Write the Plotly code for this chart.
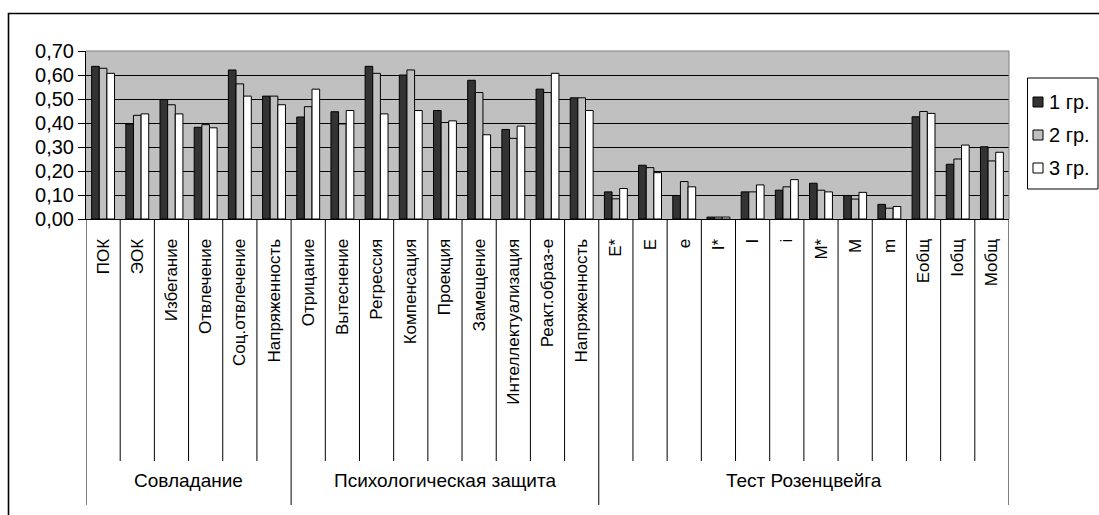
import plotly.graph_objects as go

groups = ["Совладание", "Психологическая защита", "Тест Розенцвейга"]
group_sizes = [6, 9, 12]
categories = ["ПОК", "ЭОК", "Избегание", "Отвлечение", "Соц.отвлечение", "Напряженность",
              "Отрицание", "Вытеснение", "Регрессия", "Компенсация", "Проекция", "Замещение",
              "Интеллектуализация", "Реакт.образ-е", "Напряженность",
              "E*", "E", "e", "I*", "I", "i", "M*", "M", "m", "Eобщ", "Iобщ", "Mобщ"]
series_names = ["1 гр.", "2 гр.", "3 гр."]
s1 = [0.636, 0.396, 0.498, 0.382, 0.621, 0.512, 0.425, 0.447, 0.636, 0.600, 0.452, 0.578,
      0.373, 0.541, 0.505, 0.113, 0.224, 0.098, 0.008, 0.113, 0.120, 0.149, 0.098, 0.061,
      0.426, 0.228, 0.301]
s2 = [0.628, 0.432, 0.476, 0.393, 0.563, 0.512, 0.468, 0.396, 0.607, 0.621, 0.402, 0.527,
      0.336, 0.527, 0.505, 0.084, 0.214, 0.156, 0.008, 0.113, 0.134, 0.120, 0.083, 0.045,
      0.448, 0.250, 0.242]
s3 = [0.607, 0.438, 0.438, 0.380, 0.512, 0.476, 0.541, 0.452, 0.438, 0.452, 0.409, 0.351,
      0.387, 0.607, 0.452, 0.127, 0.193, 0.134, 0.008, 0.142, 0.164, 0.113, 0.111, 0.052,
      0.440, 0.308, 0.278]
y_ticks = [0.0, 0.1, 0.2, 0.3, 0.4, 0.5, 0.6, 0.7]

colors = ["#333333", "#c0c0c0", "#ffffff"]
FONT = "Arial, Liberation Sans, sans-serif"

W, H = 1099, 515
ML, MR, MT, MB = 86, 90, 51, 296
PW, PH = W - ML - MR, H - MT - MB

def py(px):  # pixel y -> paper y
    return (H - MB - px) / PH

def pxx(px):  # pixel x -> paper x
    return (px - ML) / PW

xs = list(range(len(categories)))
fig = go.Figure()
for i, (name, vals) in enumerate(zip(series_names, [s1, s2, s3])):
    fig.add_trace(go.Bar(x=xs, y=vals, name=name, showlegend=False,
                         marker=dict(color=colors[i], line=dict(color="black", width=1))))

shapes = []
bounds = [0]
for g in group_sizes:
    bounds.append(bounds[-1] + g)
group_bounds = set(bounds)
for b in range(len(categories) + 1):
    yb = py(505) if b in group_bounds else py(461)
    shapes.append(dict(type="line", xref="x", yref="paper", x0=b - 0.5, x1=b - 0.5,
                       y0=0, y1=yb, line=dict(color="black", width=1)))
# plot area top/right border (gray)
shapes.append(dict(type="line", xref="paper", yref="paper", x0=0, x1=1, y0=1, y1=1,
                   line=dict(color="#808080", width=1), layer="above"))
shapes.append(dict(type="line", xref="paper", yref="paper", x0=1, x1=1, y0=0, y1=1,
                   line=dict(color="#808080", width=1), layer="above"))
# outer chart border
shapes.append(dict(type="rect", xref="paper", yref="paper", x0=pxx(8.5), x1=pxx(1110),
                   y0=py(530), y1=py(13.5), line=dict(color="black", width=1.6),
                   fillcolor="rgba(0,0,0,0)", layer="below"))
# legend box
shapes.append(dict(type="rect", xref="paper", yref="paper", x0=pxx(1027.5), x1=pxx(1098),
                   y0=py(189), y1=py(78), line=dict(color="black", width=1),
                   fillcolor="white", layer="above"))

annotations = []
legend_y = [102, 135, 168]
for i, name in enumerate(series_names):
    yc = legend_y[i]
    shapes.append(dict(type="rect", xref="paper", yref="paper", x0=pxx(1033), x1=pxx(1043),
                       y0=py(yc + 5), y1=py(yc - 5), line=dict(color="black", width=1),
                       fillcolor=colors[i], layer="above"))
    annotations.append(dict(x=pxx(1047), y=py(yc), xref="paper", yref="paper", text=name,
                            showarrow=False, xanchor="left", yanchor="middle",
                            font=dict(family=FONT, size=20, color="black")))

for gi, g in enumerate(groups):
    c = (bounds[gi] + bounds[gi + 1] - 1) / 2
    annotations.append(dict(x=c, y=py(480), xref="x", yref="paper", text=g, showarrow=False,
                            font=dict(family=FONT, size=19, color="black"),
                            xanchor="center", yanchor="middle"))

fig.update_layout(
    width=W, height=H,
    margin=dict(l=ML, r=MR, t=MT, b=MB, autoexpand=False),
    paper_bgcolor="white", plot_bgcolor="#c0c0c0",
    separators=", ",
    barmode="group", bargap=0.33, bargroupgap=0,
    font=dict(family=FONT, color="black"),
    showlegend=False,
    shapes=shapes, annotations=annotations,
    xaxis=dict(range=[-0.5, len(categories) - 0.5], tickmode="array", tickvals=xs,
               ticktext=categories, tickangle=-90, ticks="", showgrid=False,
               showline=True, linecolor="black", linewidth=1, zeroline=False,
               tickfont=dict(family=FONT, size=17, color="black"), ticklabelstandoff=12),
    yaxis=dict(range=[0, 0.7], tickmode="array", tickvals=y_ticks, tickformat=".2f",
               showgrid=True, gridcolor="black", gridwidth=1, zeroline=False,
               showline=True, linecolor="black", linewidth=1, ticks="outside",
               ticklen=7, tickcolor="black",
               tickfont=dict(family=FONT, size=20, color="black")),
)

fig.write_html("out.html", config={"displayModeBar": False},
               post_script="document.body.style.margin='0px';document.body.style.overflow='hidden';")
